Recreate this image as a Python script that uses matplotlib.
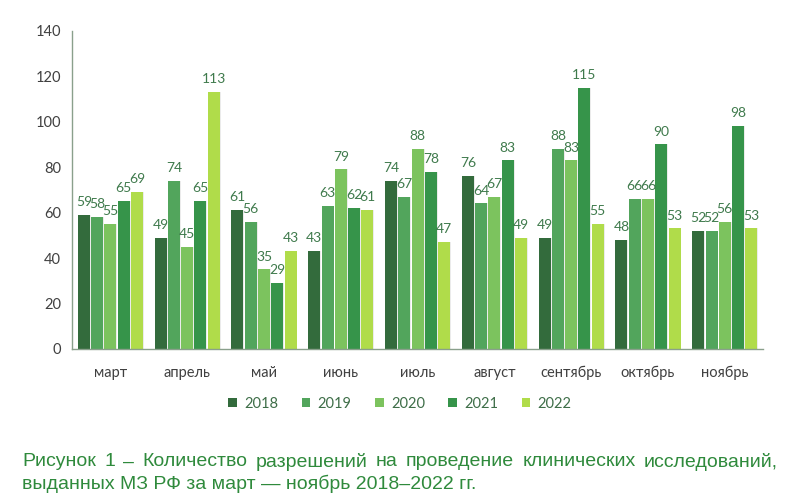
import numpy as np
import matplotlib
matplotlib.use("Agg")
import matplotlib.pyplot as plt
from matplotlib import rcParams

months = ["март", "апрель", "май", "июнь", "июль", "август", "сентябрь", "октябрь", "ноябрь"]
years = ["2018", "2019", "2020", "2021", "2022"]
v2018 = [59, 49, 61, 43, 74, 76, 49, 48, 52]
v2019 = [58, 74, 56, 63, 67, 64, 88, 66, 52]
v2020 = [55, 45, 35, 79, 88, 67, 83, 66, 56]
v2021 = [65, 65, 29, 62, 78, 83, 115, 90, 98]
v2022 = [69, 113, 43, 61, 47, 49, 55, 53, 53]
series = [v2018, v2019, v2020, v2021, v2022]

colors = ["#336b3c", "#52a55c", "#7cc35e", "#36944a", "#b0dc4a"]
label_color = "#3f7a4c"
caption_color = "#2f8a3c"

rcParams["font.family"] = ["Lato", "DejaVu Sans"]

fig = plt.figure(figsize=(8, 4.97), dpi=100)
ax = fig.add_axes([0.09, 0.298, 0.864, 0.64])

x = np.arange(len(months))
slot = 0.173
width = 0.156
for i, vals in enumerate(series):
    pos = x + (i - 2) * slot
    # faint shadow
    ax.bar(pos + 0.012, vals, width, color="#000000", alpha=0.08, zorder=1)
    bars = ax.bar(pos, vals, width, color=colors[i], label=years[i], zorder=2)
    for b, v in zip(bars, vals):
        ax.text(b.get_x() + b.get_width() / 2, v + 3, str(v), ha="center", va="bottom",
                fontsize=10, color=label_color, zorder=3)

ax.set_xlim(-0.5, len(months) - 0.5)
ax.set_ylim(0, 140)
ax.set_yticks(range(0, 141, 20))
ax.set_xticks(x)
ax.set_xticklabels(months)
ax.tick_params(axis="both", length=0, labelsize=10.5, colors="#404040")
ax.tick_params(axis="x", pad=12)
ax.tick_params(axis="y", pad=8)
for s in ["top", "right"]:
    ax.spines[s].set_visible(False)
for s in ["left", "bottom"]:
    ax.spines[s].set_color("#8aa08c")
    ax.spines[s].set_linewidth(1)

leg = fig.legend(loc="center", bbox_to_anchor=(0.5, 0.188), ncol=5, frameon=False,
                 fontsize=10.5, handlelength=0.6, handleheight=0.6, columnspacing=1.6,
                 handletextpad=0.5)
for t in leg.get_texts():
    t.set_color("#3e6e48")

# caption, first line justified across the width
line1 = "Рисунок 1 – Количество разрешений на проведение клинических исследований,"
line2 = "выданных МЗ РФ за март — ноябрь 2018–2022 гг."
x0, x1 = 22 / 800, 778 / 800
cap_font = dict(fontsize=14, color=caption_color, family=["Liberation Sans", "DejaVu Sans"])
words = line1.split(" ")
fig.canvas.draw()
r = fig.canvas.get_renderer()
texts = [fig.text(0, 1 - 462 / 497, w, va="center", ha="left", **cap_font) for w in words]
widths = [t.get_window_extent(r).width / fig.bbox.width for t in texts]
gap = (x1 - x0 - sum(widths)) / (len(words) - 1)
cur = x0
for t, w in zip(texts, widths):
    t.set_x(cur)
    cur += w + gap
fig.text(x0, 1 - 484 / 497, line2, va="center", ha="left", **cap_font)

fig.savefig("out.png", dpi=100)
